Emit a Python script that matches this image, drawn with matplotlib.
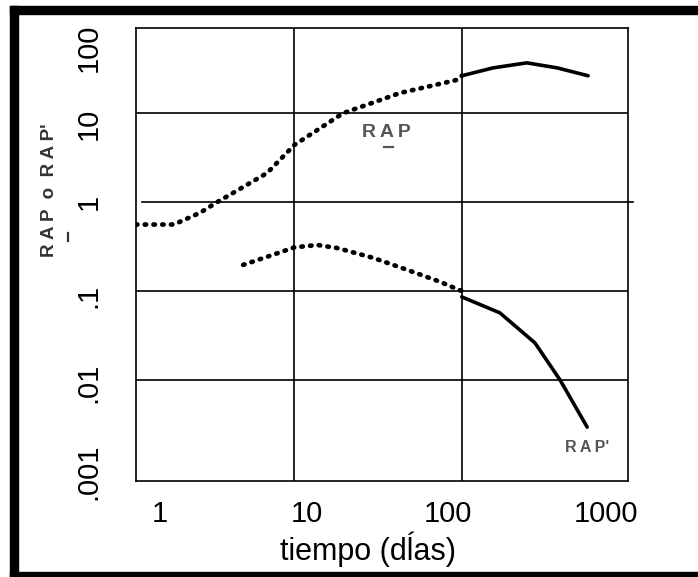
import matplotlib
matplotlib.use("Agg")
import matplotlib.pyplot as plt
from matplotlib.patches import Rectangle
from matplotlib.lines import Line2D

# ---- data ----
rap_dot_x = [1.13, 1.9, 2.73, 3.45, 4.3, 6.87, 10, 19.5, 42.8, 93.5, 100]
rap_dot_y = [0.56, 0.56, 0.76, 1.0, 1.27, 2.13, 4.4, 10.0, 16.9, 23.7, 26.4]
rap_sol_x = [100, 154, 245, 372, 570]
rap_sol_y = [26.4, 32.4, 36.9, 32.4, 26.4]

rapp_dot_x = [4.94, 6.87, 10, 13.7, 18.0, 29.6, 47.3, 74.3, 100]
rapp_dot_y = [0.197, 0.243, 0.31, 0.33, 0.305, 0.236, 0.173, 0.127, 0.1]
rapp_sol_x = [100, 169, 274, 387, 562]
rapp_sol_y = [0.086, 0.0569, 0.0261, 0.01, 0.00295]

grid_x = [10, 100]
grid_y = [0.01, 0.1, 1, 10]

xtick_pos = [1.57, 11.9, 82.8, 728]
xtick_labels = ["1", "10", "100", "1000"]
ytick_pos = [0.00092, 0.0093, 0.087, 1.0, 7.5, 55]
ytick_labels = [".001", ".01", ".1", "1", "10", "100"]

xlabel = "tiempo (dĺas)"
ylabel = "R A P  o  R A P'"
curve_label_1 = "R\u2009A\u2009P"
curve_label_2 = "R\u2009A\u2009P'"

plt.rcParams['font.family'] = ['Liberation Sans', 'DejaVu Sans']

W, H = 698, 577
fig = plt.figure(figsize=(W/100, H/100), dpi=100, facecolor='white')
ax = fig.add_axes([136/W, 1-481/H, 492/W, 453/H])

ax.set_xscale('log')
ax.set_yscale('log')
ax.set_xlim(1.13, 986)
ax.set_ylim(0.00073, 91)

for gx in grid_x:
    ax.axvline(gx, color='black', lw=1.2, zorder=1)
for gy in grid_y:
    if gy == 1:
        ax.axhline(gy, xmin=0.012, xmax=1.01, color='black', lw=1.2, zorder=1, clip_on=False)
    else:
        ax.axhline(gy, color='black', lw=1.2, zorder=1)

dot_kw = dict(color='black', lw=3.4, linestyle=(0, (0.3, 1.55)),
              dash_capstyle='round', zorder=3)
sol_kw = dict(color='black', lw=2.6, solid_capstyle='round', zorder=3)
ax.plot(rap_dot_x, rap_dot_y, **dot_kw)
ax.plot(rap_sol_x, rap_sol_y, **sol_kw)
ax.plot(rapp_dot_x, rapp_dot_y, **dot_kw)
ax.plot(rapp_sol_x, rapp_sol_y, **sol_kw)

ax.minorticks_off()
ax.set_xticks(xtick_pos)
ax.set_xticklabels(xtick_labels)
ax.set_yticks(ytick_pos)
ax.set_yticklabels(ytick_labels, rotation=90, va='center')
ax.tick_params(axis='both', length=0, labelsize=21)
ax.tick_params(axis='x', pad=14)
ax.tick_params(axis='y', pad=24)

for s in ax.spines.values():
    s.set_linewidth(1.2)

ax.set_xlabel(xlabel, fontsize=22)
ax.xaxis.set_label_coords(0.472, -0.112)
ax.xaxis.label.set_va('top')

# y label with small bar under the first RAP
fig.text(49/W, 1-190/H, ylabel, rotation=90, fontsize=13.5, fontweight='bold',
         color='#333333', ha='center', va='center')
fig.add_artist(Line2D([68/W, 68/W], [1-233/H, 1-241/H], transform=fig.transFigure,
                      color='#333333', lw=1.6))

# in-plot labels
fig.text(386/W, 1-132/H, curve_label_1, fontsize=14, fontweight='bold',
         color='#555555', ha='center', va='center')
fig.add_artist(Line2D([384/W, 393/W], [1-147/H, 1-147/H], transform=fig.transFigure,
                      color='#555555', lw=1.6))
fig.text(587/W, 1-447/H, curve_label_2, fontsize=11.5, fontweight='bold',
         color='#555555', ha='center', va='center')

# outer black frame of the scan
fig.patches.append(Rectangle((10/W, 1-14/H), 688/W, 8/H,
                             transform=fig.transFigure, color='black', zorder=10))
fig.patches.append(Rectangle((10/W, 0), 8/W, 1-6/H,
                             transform=fig.transFigure, color='black', zorder=10))
fig.patches.append(Rectangle((10/W, 0), 688/W, 5/H,
                             transform=fig.transFigure, color='black', zorder=10))

fig.savefig("out.png", dpi=100, facecolor='white')
